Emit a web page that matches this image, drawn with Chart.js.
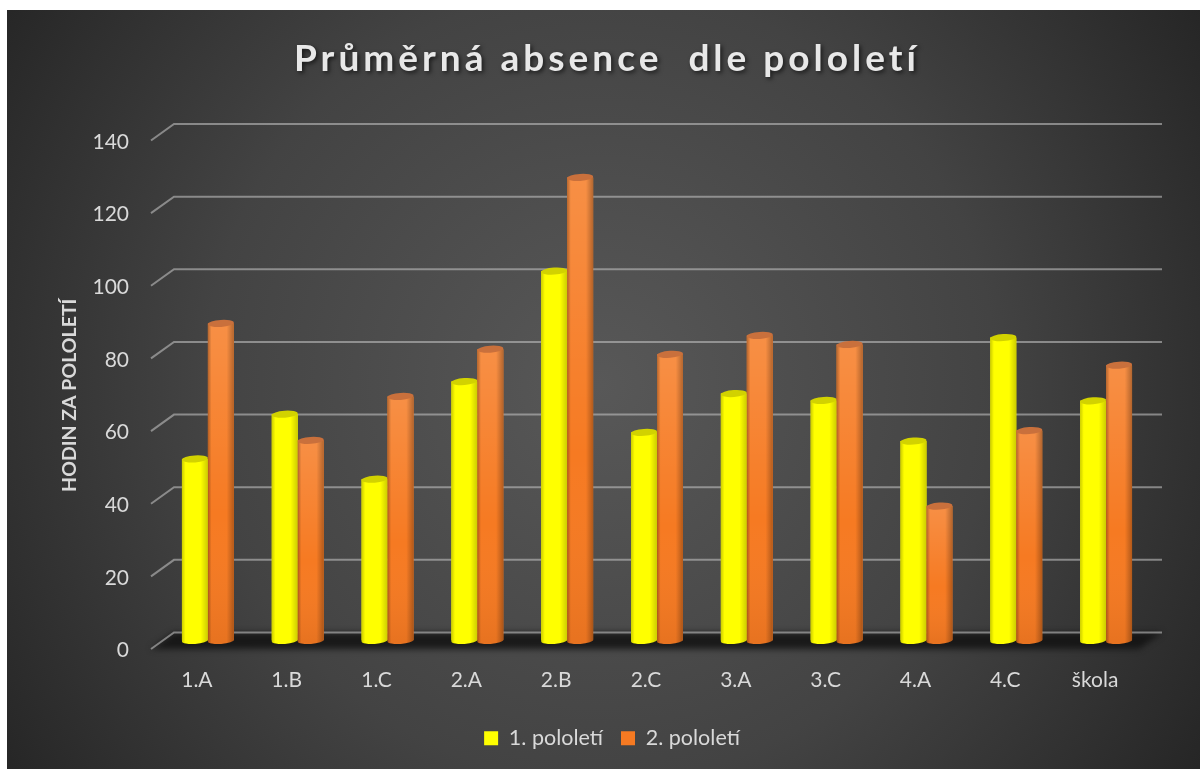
<!DOCTYPE html>
<html lang="cs">
<head>
<meta charset="utf-8">
<title>Průměrná absence dle pololetí</title>
<script src="https://cdn.jsdelivr.net/npm/chart.js@4"></script>
<style>
    html, body { margin: 0; padding: 0; background: #fff; overflow: hidden; }
    canvas { display: block; }
</style>
</head>
<body>
<canvas id="chart" width="1200" height="769"></canvas>
<script>
const categories = ['1.A', '1.B', '1.C', '2.A', '2.B', '2.C', '3.A', '3.C', '4.A', '4.C', 'škola'];
const firstHalf = [50, 62.3, 44.4, 71.3, 101.7, 57.3, 68, 66.1, 54.9, 83.4, 66];
const secondHalf = [87.3, 55.1, 67.2, 80.2, 127.5, 78.8, 84, 81.5, 37, 57.8, 75.8];
const seriesNames = ['1. pololetí', '2. pololetí'];
const yTicks = [0, 20, 40, 60, 80, 100, 120, 140];

const FONT = 'Lato, Carlito, sans-serif';
const TEXT = '#d9d9d9';
const YELLOW = '#ffff00';
const ORANGE = '#f67a22';
const CAPS = ['#d2d200', '#c9703c'];

// the fake 3D room: how far the back wall sits from the front edge
const DEPTH_X = 23;
const FRONT_Y = 8.5;
const BACK_Y = 8;

const backdrop = {
    id: 'backdrop',
    beforeDraw(chart) {
        const { ctx, width, height } = chart;
        const g = ctx.createRadialGradient(600, 385, 0, 600, 385, 720);
        g.addColorStop(0, '#585858');
        g.addColorStop(0.55, '#434343');
        g.addColorStop(1, '#252525');
        ctx.save();
        ctx.fillStyle = g;
        ctx.fillRect(7, 10, width - 7, height - 10);
        ctx.restore();
    }
};

const room = {
    id: 'room',
    beforeDatasetsDraw(chart) {
        const { ctx, chartArea, scales } = chart;
        const frontLeft = chartArea.left - 12;
        const backLeft = frontLeft + DEPTH_X;
        const backRight = chartArea.right + 11;
        const floor = scales.y.getPixelForValue(0);

        // floor
        ctx.save();
        ctx.filter = 'blur(3px)';
        ctx.fillStyle = 'rgba(18,18,18,0.85)';
        ctx.beginPath();
        ctx.moveTo(frontLeft, floor + FRONT_Y);
        ctx.lineTo(backLeft, floor - BACK_Y);
        ctx.lineTo(backRight, floor - BACK_Y);
        ctx.lineTo(backRight - DEPTH_X, floor + FRONT_Y);
        ctx.closePath();
        ctx.fill();
        ctx.restore();

        // gridlines along the side and back walls
        ctx.save();
        ctx.strokeStyle = 'rgba(190,190,190,0.6)';
        ctx.lineWidth = 2;
        yTicks.forEach(v => {
            const y = scales.y.getPixelForValue(v);
            ctx.beginPath();
            ctx.moveTo(frontLeft, y + FRONT_Y);
            ctx.lineTo(backLeft, y - BACK_Y);
            ctx.lineTo(backRight, y - BACK_Y);
            ctx.stroke();
        });
        ctx.restore();
    }
};

const cylinders = {
    id: 'cylinders',
    afterDatasetsDraw(chart) {
        const ctx = chart.ctx;
        const tilt = -0.07;
        chart.data.datasets.forEach((ds, i) => {
            chart.getDatasetMeta(i).data.forEach(el => {
                const { x, y, base, width } = el.getProps(['x', 'y', 'base', 'width'], true);
                const r = width / 2;
                const ry = 3.5;
                const body = () => {
                    ctx.beginPath();
                    ctx.moveTo(x - r, y);
                    ctx.lineTo(x - r, base);
                    ctx.ellipse(x, base, r, ry, tilt, Math.PI, 0, true);
                    ctx.lineTo(x + r, y);
                    ctx.closePath();
                };
                ctx.save();
                body();
                ctx.fillStyle = ds.backgroundColor;
                ctx.fill();

                if (i === 1) {
                    const v = ctx.createLinearGradient(0, y, 0, base);
                    v.addColorStop(0, 'rgba(255,255,255,0.16)');
                    v.addColorStop(0.6, 'rgba(255,255,255,0)');
                    v.addColorStop(1, 'rgba(0,0,0,0.06)');
                    ctx.fillStyle = v;
                    ctx.fill();
                }

                const h = ctx.createLinearGradient(x - r, 0, x + r, 0);
                const edge = i === 0 ? 0.2 : 0.28;
                h.addColorStop(0, `rgba(0,0,0,${edge})`);
                h.addColorStop(0.14, 'rgba(0,0,0,0)');
                h.addColorStop(0.72, 'rgba(0,0,0,0)');
                h.addColorStop(1, `rgba(0,0,0,${edge})`);
                ctx.fillStyle = h;
                ctx.fill();

                ctx.beginPath();
                ctx.ellipse(x, y, r, ry, tilt, 0, Math.PI * 2);
                ctx.fillStyle = CAPS[i];
                ctx.fill();
                ctx.restore();
            });
        });
    }
};

// title and legend are centred on their own lines, not on the plot
const boxPlacement = {
    id: 'boxPlacement',
    afterLayout(chart) {
        chart.titleBlock.left = 14;
        chart.titleBlock.right = chart.width;
        chart.legend.left = 24;
        chart.legend.right = chart.width;
    }
};

const chart = new Chart(document.getElementById('chart'), {
    type: 'bar',
    data: {
        labels: categories,
        datasets: [
            { label: seriesNames[0], data: firstHalf, backgroundColor: YELLOW, borderWidth: 0 },
            { label: seriesNames[1], data: secondHalf, backgroundColor: ORANGE, borderWidth: 0 }
        ]
    },
    options: {
        responsive: false,
        animation: false,
        layout: { padding: { right: 49, bottom: 10 } },
        datasets: { bar: { categoryPercentage: 0.578, barPercentage: 1 } },
        plugins: {
            title: {
                display: true,
                text: 'Průměrná absence  dle pololetí',
                color: '#e8e8e8',
                font: { family: FONT, size: 37, weight: 'bold', lineHeight: 1 },
                padding: { top: 41, bottom: 54 }
            },
            legend: {
                position: 'bottom',
                labels: {
                    color: TEXT,
                    font: { family: FONT, size: 21.5 },
                    boxWidth: 14,
                    boxHeight: 14,
                    padding: 18
                }
            },
            tooltip: { enabled: false }
        },
        scales: {
            x: {
                grid: { display: false },
                border: { display: false },
                ticks: { color: TEXT, font: { family: FONT, size: 21 }, padding: 19, labelOffset: -11, maxRotation: 0 },
                afterFit(scale) { scale.height = 69; }
            },
            y: {
                min: 0,
                max: 140,
                grid: { display: false },
                border: { display: false },
                ticks: { color: TEXT, font: { family: FONT, size: 21 }, stepSize: 20, padding: 26, labelOffset: 10 },
                title: {
                    display: true,
                    text: 'HODIN ZA POLOLETÍ',
                    color: TEXT,
                    font: { family: FONT, size: 19.5, weight: 'bold', lineHeight: 1 },
                    padding: { top: 60, bottom: 0 }
                },
                afterFit(scale) { scale.width = 163; }
            }
        }
    },
    plugins: [backdrop, room, cylinders, boxPlacement]
});

// wide tracking and a soft shadow on the title, y title sits a bit under centre
const drawTitle = chart.titleBlock.draw;
chart.titleBlock.draw = function () {
    const ctx = this.ctx;
    ctx.save();
    ctx.letterSpacing = '4px';
    ctx.shadowColor = 'rgba(0,0,0,0.6)';
    ctx.shadowBlur = 4;
    ctx.shadowOffsetX = 2;
    ctx.shadowOffsetY = 2;
    drawTitle.call(this);
    ctx.restore();
};
const drawYTitle = chart.scales.y.drawTitle;
chart.scales.y.drawTitle = function () {
    this.ctx.save();
    this.ctx.translate(0, 9);
    drawYTitle.call(this);
    this.ctx.restore();
};
chart.draw();
</script>
</body>
</html>
